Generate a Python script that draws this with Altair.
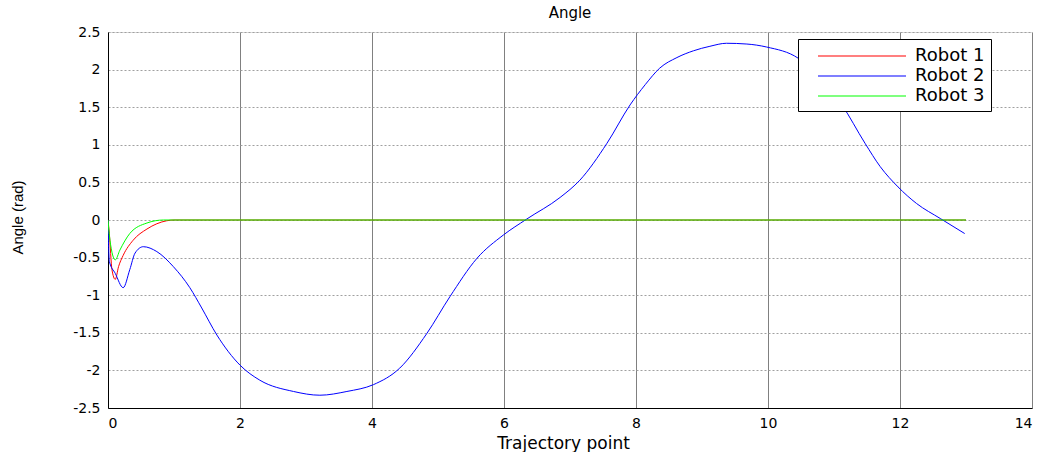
import altair as alt
import pandas as pd

robot_names = ["Robot 1", "Robot 2", "Robot 3"]
robot_colors = ["#ff0000", "#0000ff", "#00ff00"]

robot1_x = [0, 0.02, 0.06, 0.11, 0.16, 0.23, 0.38, 0.59, 0.89, 1.0, 13.0]
robot1_y = [0, -0.18, -0.66, -0.79, -0.62, -0.47, -0.27, -0.12, -0.01, 0, 0]

robot2_x = [0, 0.02, 0.11, 0.23, 0.33, 0.41, 0.535, 0.74, 0.99, 1.24, 1.42, 1.65,
            2.0, 2.30, 2.81, 3.21, 3.62, 4.02, 4.42, 4.83, 5.18, 5.59, 5.99, 6.34,
            6.85, 7.15, 7.56, 7.91, 8.14, 8.36, 8.62, 8.87, 9.12, 9.37, 9.68, 9.98, 10.46, 10.8,
            11.12, 11.47, 11.70, 11.97, 12.25, 12.61, 12.98]
robot2_y = [0, -0.55, -0.71, -0.90, -0.66, -0.44, -0.355, -0.42, -0.62, -0.90, -1.17, -1.53,
            -1.93, -2.13, -2.28, -2.33, -2.28, -2.19, -1.97, -1.51, -1.02, -0.51, -0.20, 0.01,
            0.30, 0.53, 1.02, 1.53, 1.80, 2.02, 2.16, 2.25, 2.31, 2.35, 2.34, 2.30, 2.15, 1.88,
            1.53, 1.02, 0.71, 0.44, 0.22, 0.02, -0.18]

robot3_x = [0, 0.03, 0.11, 0.18, 0.33, 0.59, 0.84, 1.0, 13.0]
robot3_y = [0, -0.27, -0.53, -0.40, -0.18, -0.04, 0, 0, 0]

x_ticks = [0, 2, 4, 6, 8, 10, 12, 14]
y_ticks = [-2.5, -2, -1.5, -1, -0.5, 0, 0.5, 1, 1.5, 2, 2.5]

rows = []
for name, xs, ys in zip(robot_names, [robot1_x, robot2_x, robot3_x], [robot1_y, robot2_y, robot3_y]):
    for xv, yv in zip(xs, ys):
        rows.append({"t": xv, "a": yv, "Robot": name})
df = pd.DataFrame(rows)

common_axis = dict(labelFont="DejaVu Sans", labelFontSize=14, labelColor="black",
                   domainColor="black", domainWidth=1, ticks=False, tickSize=0,
                   labelPadding=8, titleColor="black", titleFontWeight="normal")

chart = alt.Chart(df).mark_line(strokeWidth=1, interpolate="monotone", clip=True).encode(
    x=alt.X("t:Q",
            scale=alt.Scale(domain=[0, 14], nice=False, zero=False),
            axis=alt.Axis(values=x_ticks, title="Trajectory point",
                          titleX=455, titleY=35, titleBaseline="middle",
                          titleFont="DejaVu Sans", titleFontSize=17,
                          gridColor="#808080", gridOpacity=1, gridWidth=1,
                          **common_axis)),
    y=alt.Y("a:Q",
            scale=alt.Scale(domain=[-2.5, 2.5], nice=False, zero=False),
            axis=alt.Axis(values=y_ticks, title="Angle (rad)",
                          labelExpr="toString(datum.value)",
                          titleX=-91, titleY=185, titleAngle=-90,
                          titleAlign="center", titleBaseline="middle",
                          titleFont="Liberation Sans", titleFontSize=15,
                          gridColor="#a0a0a0", gridDash=[2, 2], gridOpacity=1, gridWidth=1,
                          **common_axis)),
    color=alt.Color("Robot:N",
                    scale=alt.Scale(domain=robot_names, range=robot_colors),
                    legend=alt.Legend(title=None, orient="none", legendX=690, legendY=7,
                                      fillColor="white", strokeColor="black",
                                      padding=6, symbolType="M-4.4,0H4.4", symbolSize=400,
                                      symbolOffset=47, symbolStrokeWidth=1.2,
                                      symbolFillColor="transparent",
                                      labelFont="DejaVu Sans", labelColor="black",
                                      labelFontSize=18, labelOffset=42, rowPadding=0)),
).properties(
    width=924, height=376,
    title=alt.TitleParams("Angle", font="DejaVu Sans", fontSize=15, fontWeight="normal",
                          color="black", offset=4, anchor="middle"),
    autosize=alt.AutoSizeParams(type="none"),
    padding={"left": 108, "top": 32, "right": 22, "bottom": 44},
).configure_view(
    stroke="black", strokeWidth=1
).configure(background="white")

chart.save("out.html", embed_options={"renderer": "svg", "actions": False})
